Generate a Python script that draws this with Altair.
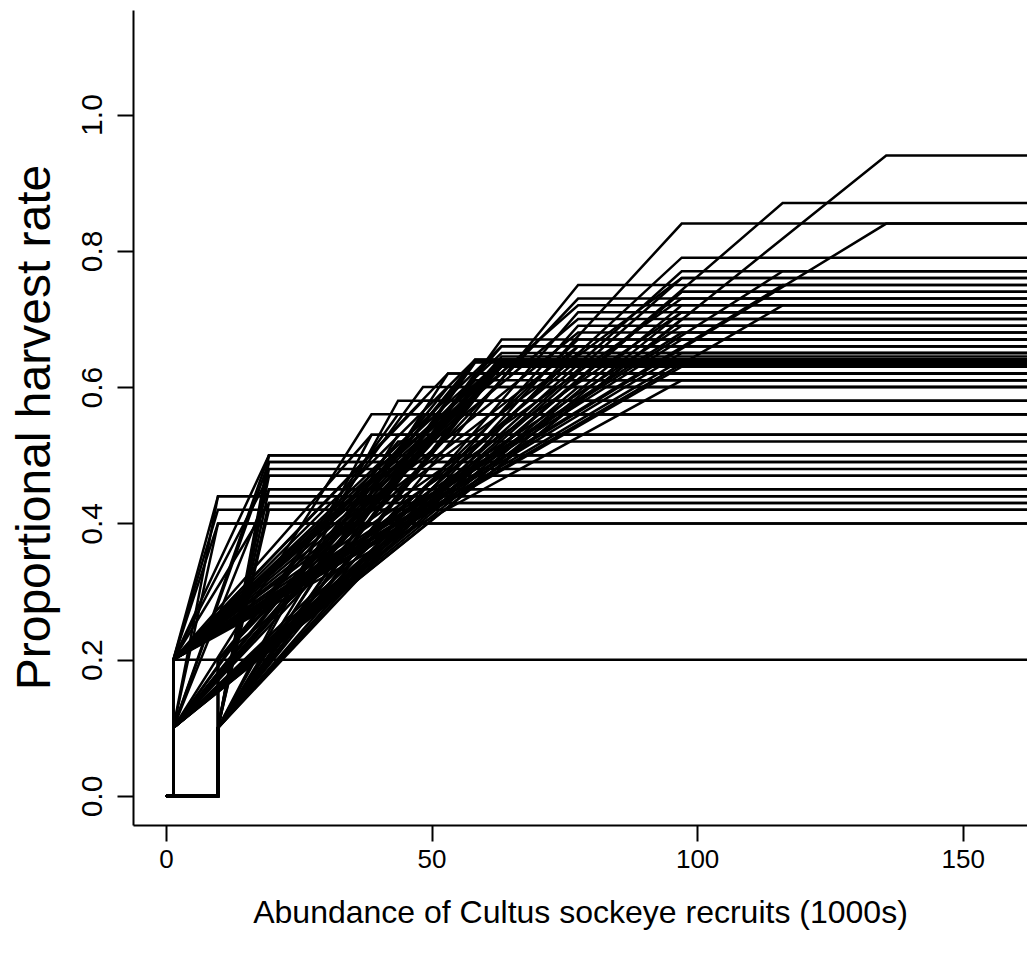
import altair as alt
import pandas as pd

# Each harvest control rule: no harvest below the lower abundance
# threshold, a minimum rate from there, a linear rise to the maximum
# rate at the upper threshold, and a flat maximum rate beyond it.
lower_abundance = [
    # plateau reached at 9.8
    1.4, 1.4, 1.4, 1.4, 1.4,
    # plateau reached at 19.4
    9.8, 1.4, 9.8, 1.4, 9.8, 1.4, 9.8, 1.4, 9.8, 1.4, 9.8, 9.8, 1.4,
    # constant rate
    1.4,
    # plateau reached at 38.7 - 53.1
    1.4, 1.4, 9.8, 9.8, 1.4, 9.8, 1.4, 9.8, 1.4, 9.8, 1.4, 9.8, 1.4, 9.8,
    # plateau reached at 58.2
    1.4, 9.8, 1.4, 9.8, 1.4, 9.8, 9.8,
    # plateau reached at 63.2
    1.4, 1.4, 9.8, 1.4, 9.8, 1.4, 9.8, 1.4, 1.4, 1.4, 9.8, 1.4, 9.8, 9.8, 1.4,
    1.4, 9.8, 1.4,
    # plateau reached at 77.6
    9.8, 1.4, 1.4, 9.8, 1.4, 1.4, 1.4, 1.4, 1.4, 9.8, 1.4, 9.8, 1.4, 1.4, 9.8,
    # plateau reached at 97.1
    9.8, 1.4, 1.4, 1.4, 1.4, 1.4, 1.4, 1.4, 1.4, 1.4, 1.4, 1.4, 1.4, 1.4,
    1.4, 1.4, 1.4, 1.4, 1.4,
    # plateau reached at 116.1 and 135.6
    1.4, 1.4, 1.4, 1.4, 1.4, 1.4,
]
min_rate = [
    0.2, 0.1, 0.2, 0.1, 0.2,
    0.1, 0.2, 0.1, 0.1, 0.1, 0.2, 0.1, 0.1, 0.1, 0.2, 0.1, 0.1, 0.1,
    0.2,
    0.1, 0.2, 0.1, 0.2, 0.1, 0.1, 0.2, 0.1, 0.2, 0.1, 0.1, 0.1, 0.1, 0.1,
    0.1, 0.1, 0.1, 0.1, 0.2, 0.1, 0.2,
    0.2, 0.1, 0.1, 0.2, 0.2, 0.1, 0.1, 0.1, 0.2, 0.1, 0.1, 0.2, 0.1, 0.2, 0.2,
    0.1, 0.1, 0.2,
    0.1, 0.1, 0.2, 0.1, 0.2, 0.1, 0.1, 0.1, 0.1, 0.1, 0.2, 0.2, 0.2, 0.1, 0.1,
    0.1, 0.1, 0.1, 0.2, 0.1, 0.1, 0.2, 0.1, 0.2, 0.2, 0.2, 0.2, 0.2, 0.2,
    0.1, 0.2, 0.1, 0.2, 0.1,
    0.1, 0.2, 0.2, 0.1, 0.2, 0.2,
]
upper_abundance = [
    9.8, 9.8, 9.8, 9.8, 9.8,
    19.4, 19.4, 19.4, 19.4, 19.4, 19.4, 19.4, 19.4, 19.4, 19.4, 19.4, 19.4, 19.4,
    1.4,
    38.7, 38.7, 43.7, 43.7, 48.4, 53.1, 53.1, 53.1, 48.4, 43.7, 53.1, 48.4,
    43.7, 38.7,
    58.2, 58.2, 58.2, 58.2, 58.2, 58.2, 58.2,
    63.2, 63.2, 63.2, 63.2, 63.2, 63.2, 63.2, 63.2, 63.2, 63.2, 63.2, 63.2,
    63.2, 63.2, 63.2, 63.2, 63.2, 63.2,
    77.6, 77.6, 77.6, 77.6, 77.6, 77.6, 77.6, 77.6, 77.6, 77.6, 77.6, 77.6,
    77.6, 77.6, 77.6,
    97.1, 97.1, 97.1, 97.1, 97.1, 97.1, 97.1, 97.1, 97.1, 97.1, 97.1, 97.1,
    97.1, 97.1, 97.1, 97.1, 97.1, 97.1, 97.1,
    116.1, 116.1, 116.1, 135.6, 135.6, 116.1,
]
max_rate = [
    0.44, 0.44, 0.42, 0.40, 0.40,
    0.50, 0.50, 0.49, 0.49, 0.48, 0.47, 0.47, 0.45, 0.45, 0.43, 0.43, 0.42, 0.50,
    0.20,
    0.56, 0.53, 0.58, 0.52, 0.60, 0.62, 0.62, 0.56, 0.58, 0.53, 0.60, 0.56,
    0.56, 0.53,
    0.64, 0.64, 0.637, 0.636, 0.64, 0.62, 0.61,
    0.64, 0.635, 0.635, 0.63, 0.63, 0.63, 0.67, 0.66, 0.65, 0.64, 0.64, 0.637,
    0.632, 0.64, 0.66, 0.645, 0.638, 0.62,
    0.75, 0.73, 0.70, 0.69, 0.66, 0.62, 0.61, 0.60, 0.67, 0.66, 0.72, 0.64,
    0.68, 0.65, 0.71,
    0.84, 0.79, 0.77, 0.76, 0.74, 0.72, 0.71, 0.70, 0.68, 0.67, 0.65, 0.64,
    0.63, 0.69, 0.71, 0.61, 0.74, 0.73, 0.76,
    0.87, 0.72, 0.75, 0.94, 0.84, 0.77,
]

x_ticks = [0, 50, 100, 150]
y_ticks = [0.0, 0.2, 0.4, 0.6, 0.8, 1.0]
x_domain = [-6.2, 162.1]
y_domain = [-0.0426, 1.1534]
abundance_end = 175

rows = []
for rule, (lo, hmin, hi, hmax) in enumerate(
    zip(lower_abundance, min_rate, upper_abundance, max_rate)
):
    path = [(0, 0.0), (lo, 0.0), (lo, hmin), (hi, hmax), (abundance_end, hmax)]
    for step, (n, h) in enumerate(path):
        rows.append({"rule": rule, "step": step, "abundance": n, "rate": h})
df = pd.DataFrame(rows)

FONT = "Liberation Sans"

x_axis = alt.Axis(
    values=x_ticks,
    format="d",
    title="Abundance of Cultus sockeye recruits (1000s)",
    grid=False,
    domainColor="black",
    domainWidth=2,
    tickColor="black",
    tickWidth=2,
    tickSize=16,
    labelFont=FONT,
    labelFontSize=26,
    labelColor="black",
    labelPadding=5,
    labelFlush=False,
    titleFont=FONT,
    titleFontSize=32,
    titleFontWeight="normal",
    titleColor="black",
    titleY=87,
    titleBaseline="middle",
)

y_axis = alt.Axis(
    values=y_ticks,
    format=".1f",
    title="Proportional harvest rate",
    grid=False,
    domainColor="black",
    domainWidth=2,
    tickColor="black",
    tickWidth=2,
    tickSize=16,
    labelFont=FONT,
    labelFontSize=30,
    labelColor="black",
    labelAngle=270,
    labelAlign="center",
    labelBaseline="bottom",
    labelPadding=10,
    labelFlush=False,
    titleFont=FONT,
    titleFontSize=48,
    titleFontWeight="normal",
    titleColor="black",
    titleX=-98,
    titleY=417,
    titleAngle=270,
    titleAlign="center",
    titleBaseline="middle",
)

chart = (
    alt.Chart(df)
    .mark_line(color="black", strokeWidth=2.5, clip=True)
    .encode(
        x=alt.X(
            "abundance:Q",
            scale=alt.Scale(domain=x_domain, nice=False, zero=False),
            axis=x_axis,
        ),
        y=alt.Y(
            "rate:Q",
            scale=alt.Scale(domain=y_domain, nice=False, zero=False),
            axis=y_axis,
        ),
        detail="rule:N",
        order="step:Q",
    )
    .properties(
        width=894,
        height=815,
        padding={"left": 133, "top": 10, "right": 0, "bottom": 135},
        autosize="none",
        background="white",
    )
    .configure_view(stroke=None)
)

chart.save("out.html", embed_options={"renderer": "svg", "actions": False})
